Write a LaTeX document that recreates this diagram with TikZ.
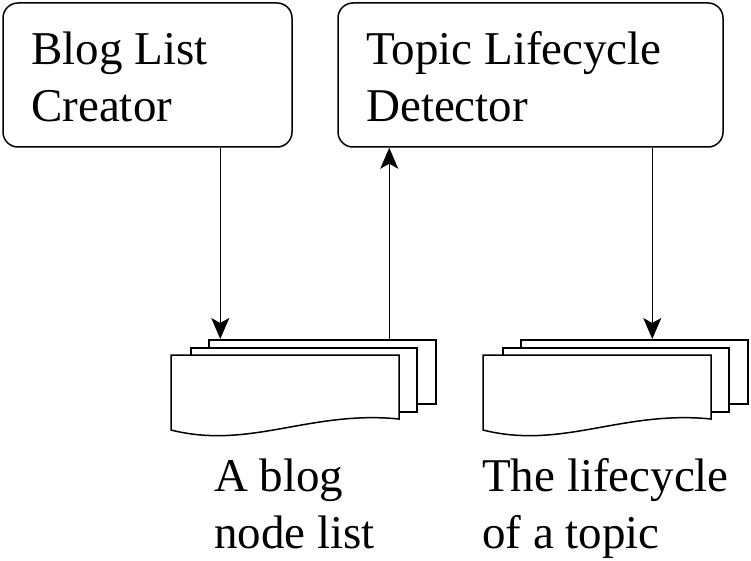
\documentclass[tikz,border=0pt]{standalone}
\usepackage{fontspec}
\setmainfont{Liberation Serif}
\usetikzlibrary{arrows.meta}
\tikzset{
  procbox/.style={draw, line width=1.5pt, rounded corners=15pt, inner sep=0pt},
  sheet/.style={draw, fill=white, line width=1.5pt, inner sep=0pt, minimum width=227pt, minimum height=64pt},
  bigtext/.style={font=\fontsize{47}{57}\selectfont, align=left, inner sep=0pt},
  flow/.style={line width=1.3pt, -{Stealth[length=21pt,width=18pt,inset=5pt]}}
}
\begin{document}
\begin{tikzpicture}[x=1pt,y=-1pt]
\useasboundingbox (0,0) rectangle (751,561);
% process boxes
\node[procbox, minimum width=289pt, minimum height=144pt] (box1) at (147.5,75) {};
\node[procbox, minimum width=385pt, minimum height=144pt] (box2) at (530.5,75) {};
\node[bigtext, anchor=base west] (t1) at (31,122) {Blog List\\Creator};
\node[bigtext, anchor=base west] (t2) at (366,122) {Topic Lifecycle\\Detector};
% document stacks
\foreach \s/\n in {0/1,312/2}{
  \begin{scope}[xshift=\s pt]
    \node[sheet, anchor=north west] (back\n) at (208,339) {};
    \node[sheet, anchor=north west, minimum width=226pt] (mid\n) at (190,347) {};
    \draw[fill=white, line width=1.5pt] (171,355) -- (399,355) -- (399,419)
      .. controls (310,410) and (250,450) .. (171,430) -- cycle;
  \end{scope}
}
% labels
\node[bigtext, anchor=base west] (l1) at (214,548) {A blog\\node list};
\node[bigtext, anchor=base west] (l2) at (482,548) {The lifecycle\\of a topic};
% connectors
\draw[flow] ([xshift=12.25pt]back1.north west |- box1.south) -- ([xshift=12.25pt]back1.north west);
\draw[flow] ([xshift=-47.25pt]back1.north east) -- ([xshift=-47.25pt]back1.north east |- box2.south);
\draw[flow] ([xshift=132.25pt]back2.north west |- box2.south) -- ([xshift=132.25pt]back2.north west);
\end{tikzpicture}
\end{document}
